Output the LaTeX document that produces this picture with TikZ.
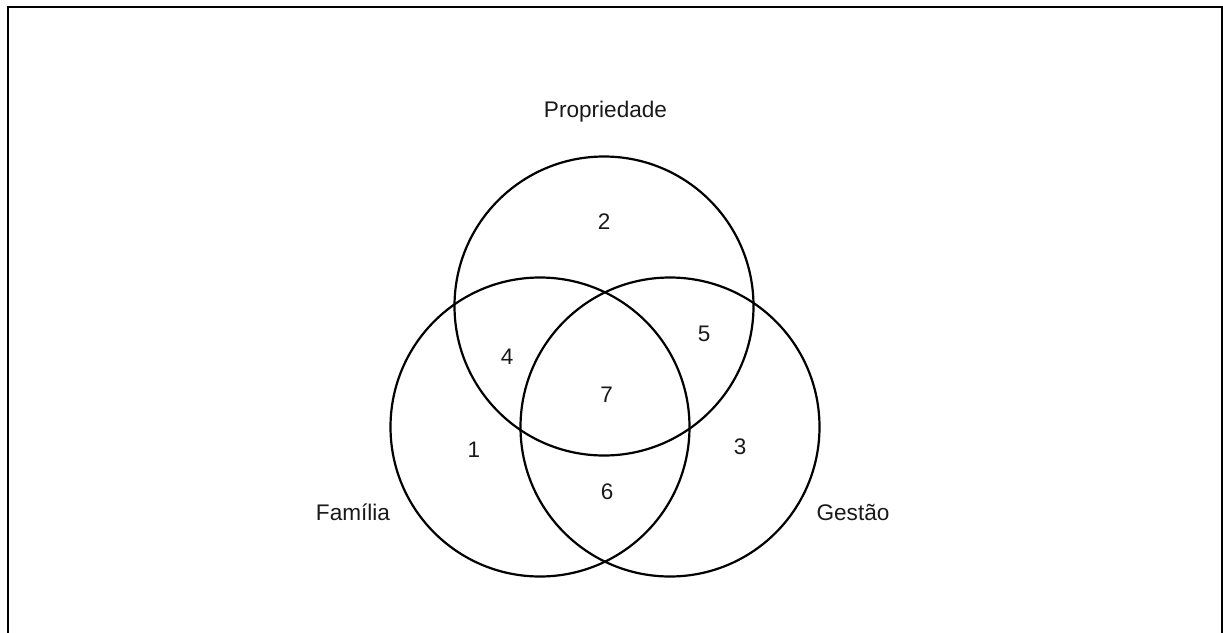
\documentclass[tikz,border=0pt]{standalone}
\usepackage{fontspec}
\setmainfont{Liberation Sans}
\begin{document}
\begin{tikzpicture}[x=1pt,y=-1pt,
  ring/.style={draw=black,line width=2.2pt,circle,minimum size=299pt,inner sep=0pt},
  lbl/.style={font=\fontsize{22.6}{27}\selectfont,text=black!90,inner sep=0pt},
  num/.style={font=\fontsize{22.5}{27}\selectfont,text=black!90,inner sep=0pt}]
\useasboundingbox (0,0) rectangle (1223,632);
\begin{scope}
\clip (0,0) rectangle (1223,632);
\draw[line width=2.2pt] (8,7) rectangle (1222,660);
\end{scope}
\node[ring] (P) at (604,306) {};
\node[ring] (F) at (540,427) {};
\node[ring] (G) at (670,427) {};
\node[lbl,anchor=base] (tP) at (605.5,117) {Propriedade};
\node[lbl,anchor=base] (tF) at (353,520) {Família};
\node[lbl,anchor=base] (tG) at (853,520) {Gestão};
\node[num] (n2) at (604,222) {2};
\node[num] (n4) at (507,357) {4};
\node[num] (n5) at (704,334) {5};
\node[num] (n7) at (606.5,395) {7};
\node[num] (n1) at (474,450) {1};
\node[num] (n3) at (740,447) {3};
\node[num] (n6) at (607,492) {6};
\end{tikzpicture}
\end{document}
